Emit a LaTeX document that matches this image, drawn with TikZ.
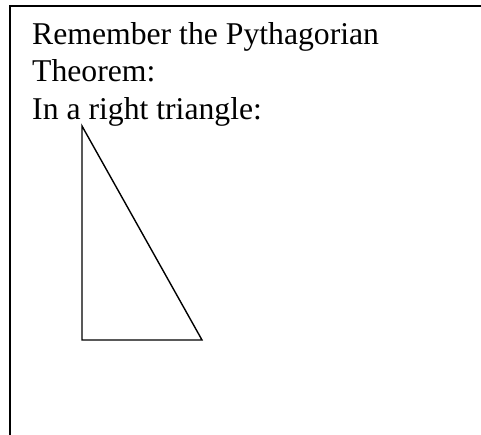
\documentclass[tikz,border=0pt]{standalone}
\usepackage{fontspec}
\setmainfont{Liberation Serif}
\begin{document}
\begin{tikzpicture}[x=1pt,y=-1pt,
  txt/.style={anchor=base west,inner sep=0pt,font=\fontsize{31.7}{37.5}\selectfont},
  frame/.style={line width=2pt,line cap=rect},
  tri/.style={line width=1.4pt,line join=miter}]
\useasboundingbox (0,0) rectangle (481,435);
\draw[frame] (10,436) -- (10,6) -- (482,6);
\node[txt] (l1) at (32,45) {Remember the Pythagorian};
\node[txt] (l2) at (32,82) {Theorem:};
\node[txt] (l3) at (32,120) {In a right triangle:};
\coordinate (a) at (82,126);
\coordinate (b) at (82,340);
\coordinate (c) at (202,340);
\draw[tri] (a) -- (b) -- (c) -- cycle;
\end{tikzpicture}
\end{document}
